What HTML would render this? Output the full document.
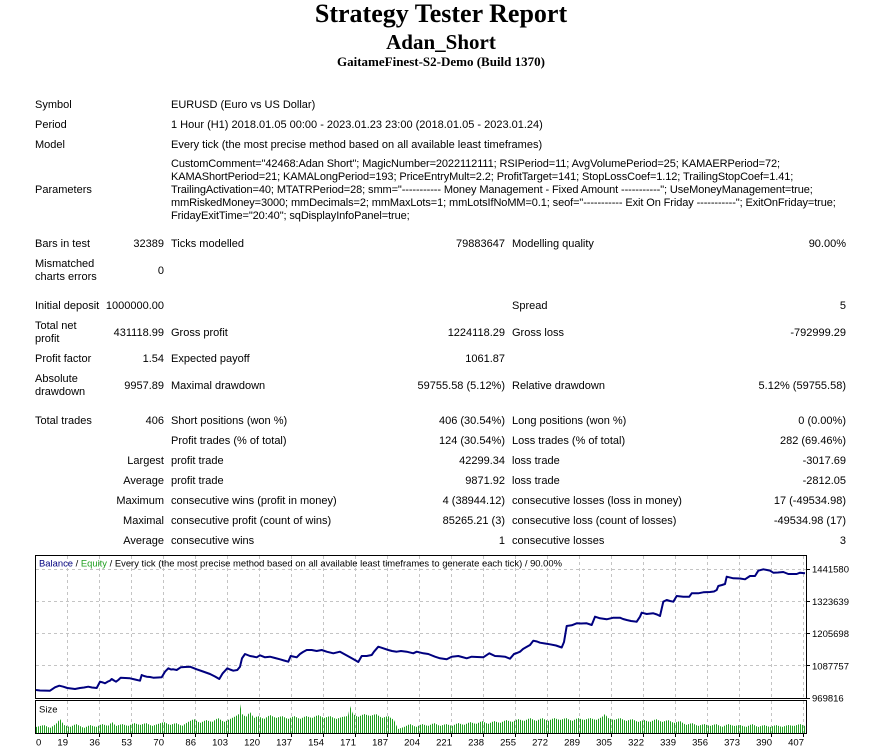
<!DOCTYPE html>
<html>
<head>
<meta charset="utf-8">
<style>
  html,body{margin:0;padding:0;background:#fff;}
  body{width:891px;height:752px;position:relative;overflow:hidden;font-family:"Liberation Sans",Arial,sans-serif;font-size:11px;color:#000;}
  .t{position:absolute;left:0;width:882px;text-align:center;font-family:"Liberation Serif","Times New Roman",serif;font-weight:bold;white-space:nowrap;}
  .r{position:absolute;left:0;width:891px;height:13px;line-height:13px;white-space:nowrap;}
  .r span{position:absolute;top:0;}
  .c1{left:35px;}
  .c2{right:727px;text-align:right;}
  .c3{left:171px;}
  .c4{right:386px;text-align:right;}
  .c5{left:512px;}
  .c6{right:45px;text-align:right;}
  .par{position:absolute;left:171px;top:157.5px;line-height:13px;white-space:nowrap;letter-spacing:-0.1px;}
  svg{position:absolute;left:0;top:0;}
</style>
</head>
<body>
<div class="t" style="top:0;font-size:26px;line-height:28px;">Strategy Tester Report</div>
<div class="t" style="top:30px;font-size:21px;line-height:24px;">Adan_Short</div>
<div class="t" style="top:54px;font-size:13px;line-height:16px;">GaitameFinest-S2-Demo (Build 1370)</div>

<div class="r" style="top:98.5px"><span class="c1">Symbol</span><span class="c3">EURUSD (Euro vs US Dollar)</span></div>
<div class="r" style="top:118.5px"><span class="c1">Period</span><span class="c3">1 Hour (H1) 2018.01.05 00:00 - 2023.01.23 23:00 (2018.01.05 - 2023.01.24)</span></div>
<div class="r" style="top:138.5px"><span class="c1">Model</span><span class="c3">Every tick (the most precise method based on all available least timeframes)</span></div>
<div class="r" style="top:183.5px"><span class="c1">Parameters</span></div>
<div class="par">CustomComment="42468:Adan Short"; MagicNumber=2022112111; RSIPeriod=11; AvgVolumePeriod=25; KAMAERPeriod=72;<br>KAMAShortPeriod=21; KAMALongPeriod=193; PriceEntryMult=2.2; ProfitTarget=141; StopLossCoef=1.12; TrailingStopCoef=1.41;<br>TrailingActivation=40; MTATRPeriod=28; smm="----------- Money Management - Fixed Amount -----------"; UseMoneyManagement=true;<br>mmRiskedMoney=3000; mmDecimals=2; mmMaxLots=1; mmLotsIfNoMM=0.1; seof="----------- Exit On Friday -----------"; ExitOnFriday=true;<br>FridayExitTime="20:40"; sqDisplayInfoPanel=true;</div>

<div class="r" style="top:237.5px"><span class="c1">Bars in test</span><span class="c2">32389</span><span class="c3">Ticks modelled</span><span class="c4">79883647</span><span class="c5">Modelling quality</span><span class="c6">90.00%</span></div>
<div class="r" style="top:257.5px"><span class="c1">Mismatched</span></div>
<div class="r" style="top:270.5px"><span class="c1">charts errors</span></div>
<div class="r" style="top:264.5px"><span class="c2">0</span></div>
<div class="r" style="top:299.5px"><span class="c1">Initial deposit</span><span class="c2">1000000.00</span><span class="c5">Spread</span><span class="c6">5</span></div>
<div class="r" style="top:319.5px"><span class="c1">Total net</span></div>
<div class="r" style="top:332.5px"><span class="c1">profit</span></div>
<div class="r" style="top:326.5px"><span class="c2">431118.99</span><span class="c3">Gross profit</span><span class="c4">1224118.29</span><span class="c5">Gross loss</span><span class="c6">-792999.29</span></div>
<div class="r" style="top:352.5px"><span class="c1">Profit factor</span><span class="c2">1.54</span><span class="c3">Expected payoff</span><span class="c4">1061.87</span></div>
<div class="r" style="top:372.5px"><span class="c1">Absolute</span></div>
<div class="r" style="top:385.5px"><span class="c1">drawdown</span></div>
<div class="r" style="top:379.5px"><span class="c2">9957.89</span><span class="c3">Maximal drawdown</span><span class="c4">59755.58 (5.12%)</span><span class="c5">Relative drawdown</span><span class="c6">5.12% (59755.58)</span></div>
<div class="r" style="top:414.5px"><span class="c1">Total trades</span><span class="c2">406</span><span class="c3">Short positions (won %)</span><span class="c4">406 (30.54%)</span><span class="c5">Long positions (won %)</span><span class="c6">0 (0.00%)</span></div>
<div class="r" style="top:434.5px"><span class="c3">Profit trades (% of total)</span><span class="c4">124 (30.54%)</span><span class="c5">Loss trades (% of total)</span><span class="c6">282 (69.46%)</span></div>
<div class="r" style="top:454.5px"><span class="c2">Largest</span><span class="c3">profit trade</span><span class="c4">42299.34</span><span class="c5">loss trade</span><span class="c6">-3017.69</span></div>
<div class="r" style="top:474.5px"><span class="c2">Average</span><span class="c3">profit trade</span><span class="c4">9871.92</span><span class="c5">loss trade</span><span class="c6">-2812.05</span></div>
<div class="r" style="top:494.5px"><span class="c2">Maximum</span><span class="c3">consecutive wins (profit in money)</span><span class="c4">4 (38944.12)</span><span class="c5">consecutive losses (loss in money)</span><span class="c6">17 (-49534.98)</span></div>
<div class="r" style="top:514.5px"><span class="c2">Maximal</span><span class="c3">consecutive profit (count of wins)</span><span class="c4">85265.21 (3)</span><span class="c5">consecutive loss (count of losses)</span><span class="c6">-49534.98 (17)</span></div>
<div class="r" style="top:534.5px"><span class="c2">Average</span><span class="c3">consecutive wins</span><span class="c4">1</span><span class="c5">consecutive losses</span><span class="c6">3</span></div>

<svg width="891" height="752" viewBox="0 0 891 752" xmlns="http://www.w3.org/2000/svg">
  <defs>
    <pattern id="st" x="36" y="0" width="2" height="20" patternUnits="userSpaceOnUse">
      <rect x="0" y="0" width="1" height="20" fill="#1f9f1f"/>
    </pattern>
  </defs>
  <g stroke="#c4c4c4" stroke-width="1" stroke-dasharray="3,3" fill="none">
    <path d="M36,569.5H806 M36,601.5H806 M36,633.5H806 M36,665.5H806"/>
    <path d="M67.5,556V698 M99.5,556V698 M131.5,556V698 M163.5,556V698 M195.5,556V698 M227.5,556V698 M259.5,556V698 M291.5,556V698 M323.5,556V698 M355.5,556V698 M387.5,556V698 M419.5,556V698 M451.5,556V698 M483.5,556V698 M515.5,556V698 M547.5,556V698 M579.5,556V698 M611.5,556V698 M643.5,556V698 M675.5,556V698 M707.5,556V698 M739.5,556V698 M771.5,556V698 M803.5,556V698"/>
    <path d="M67.5,701V733 M99.5,701V733 M131.5,701V733 M163.5,701V733 M195.5,701V733 M227.5,701V733 M259.5,701V733 M291.5,701V733 M323.5,701V733 M355.5,701V733 M387.5,701V733 M419.5,701V733 M451.5,701V733 M483.5,701V733 M515.5,701V733 M547.5,701V733 M579.5,701V733 M611.5,701V733 M643.5,701V733 M675.5,701V733 M707.5,701V733 M739.5,701V733 M771.5,701V733 M803.5,701V733"/>
  </g>
  <polygon fill="url(#st)" points="36,733 36,727 44,725 50,728 56,724 60,719 64,725 70,727 76,724 84,728 90,725 96,727 102,724 108,726 112,722 116,726 122,724 128,726 134,723 140,725 146,723 152,726 158,724 164,722 170,725 176,723 182,726 188,722 194,719 200,723 206,720 212,722 218,718 224,722 230,719 236,716 239,714 240,704 242,714 246,717 250,712 254,718 258,716 264,719 270,715 276,718 282,716 288,719 294,716 300,719 306,716 312,718 318,715 324,718 330,716 336,719 342,717 348,716 350,706 353,714 358,717 364,714 370,716 376,714 382,718 388,716 394,720 398,729 404,727 410,724 416,727 422,724 428,726 434,723 440,726 446,724 452,726 458,723 464,725 470,722 476,724 482,721 488,724 494,721 500,723 506,720 512,722 518,719 524,721 530,718 536,721 542,718 548,721 554,718 560,720 566,718 572,721 578,718 584,720 590,718 596,720 602,717 605,714 608,718 614,720 620,718 626,721 632,719 638,722 644,720 650,722 656,719 662,722 668,720 674,723 680,721 686,725 692,723 698,726 704,724 710,726 716,724 722,727 728,724 734,726 740,725 746,727 752,724 758,727 764,725 770,727 776,725 782,727 788,725 794,726 800,724 805,726 805,733"/>
  <polyline fill="none" stroke="#00007f" stroke-width="2" stroke-linejoin="round" points="36,690 40,690.5 50,690.7 55,687.3 59.3,685.7 63.3,686.7 67.3,688 75,689 80,688 84,687.5 88.3,686.7 92,687.5 96.7,688 100,681.7 103,682.5 105,683.3 108,681.5 110,680.7 111.7,679 114,680.5 116,681.7 118.3,680 120.7,677.7 125,678 130,678.3 135,679.5 140,680.7 141.7,675 144,676 146.7,676.7 150,677 153.3,677.7 158,677.5 161.7,677.3 165,671.7 168.3,668.3 171,669.5 173.3,669.3 176.7,670 180.7,667.3 185,667 190,666.7 196.7,669.3 203,671.5 210,674 215,676.5 219.3,679 222.7,673.3 227.3,668.3 230,669.5 233.3,670.7 237.3,670 240,666.7 242,658.3 245,654 250,656 253,656.5 256.7,657.3 260,655.3 265,657.3 270,656.7 275,658 280,659.3 284,660.5 288.3,661.7 290.7,656 293,656.5 296.7,657.3 300,654 303,652 306.7,650 311.7,650 316.7,651 321.7,650 326.7,651.7 333.3,653.3 340,651.7 345,654.5 350,657.3 354,659.5 358.3,662 361.7,656 366.7,656 371.7,655 374,651.7 378.3,646.7 383.3,648.3 388.3,650 392,651 396.7,651.7 401,651 406.7,651.7 413.3,653.3 416.7,651.7 423.3,653.3 428.3,654 435,656.7 440,658.3 446.7,659.3 451.7,656.7 458.3,656 462,657 466.7,658.3 471.7,656.7 477,657 483.3,657.3 489.3,653.3 495,656 500,656.3 505,656.7 510,658.7 514,654 517,653 520,651.7 523,649 526,647.3 530,645 533.3,640.7 537,641.5 540,642.7 545,643.5 550,644.3 556,645.5 561.7,647.5 564,642 566.7,626 571.7,625.3 576.7,623.3 581,623.5 586.7,623.3 591.7,625 595,616.7 600,618.3 606.7,619.3 613.3,617.7 620,617.7 623,619 626.7,620 631,621 636.7,621.7 640,616.7 641.7,612.7 646.7,614 653.3,613.3 657,614.5 660,616 663.3,601.7 666.7,600 670,601 673.3,601.7 676.7,596 683.3,596.7 689.3,596.7 691.7,593.3 698.3,593.3 703.3,592.3 710,592 714,591.5 716.7,590 718.3,586 722,585 725,584 726.7,576.7 733.3,578.3 740,578.5 745,579.3 750,576 755,576 758.3,570.7 763.3,569.3 767,570 770,570.7 773.3,572.7 778,572.5 783.3,572 788.3,574 792,574 796.7,574 800,572.7 805,573.3"/>
  <rect x="35.5" y="555.5" width="771" height="143" fill="none" stroke="#000" stroke-width="1"/>
  <rect x="35.5" y="700.5" width="771" height="33" fill="none" stroke="#000" stroke-width="1"/>
  <path stroke="#000" stroke-width="1" d="M807,569.5H810 M807,601.5H810 M807,633.5H810 M807,665.5H810 M807,698.5H810 M67.5,734V737 M99.5,734V737 M131.5,734V737 M163.5,734V737 M195.5,734V737 M227.5,734V737 M259.5,734V737 M291.5,734V737 M323.5,734V737 M355.5,734V737 M387.5,734V737 M419.5,734V737 M451.5,734V737 M483.5,734V737 M515.5,734V737 M547.5,734V737 M579.5,734V737 M611.5,734V737 M643.5,734V737 M675.5,734V737 M707.5,734V737 M739.5,734V737 M771.5,734V737 M803.5,734V737"/>
  <g font-family="Liberation Sans, Arial, sans-serif" font-size="9.5" fill="#000">
    <text x="39" y="566.5" textLength="523" lengthAdjust="spacingAndGlyphs"><tspan fill="#00007f">Balance</tspan> / <tspan fill="#1f9f1f">Equity</tspan> / Every tick (the most precise method based on all available least timeframes to generate each tick) / 90.00%</text>
    <text x="39" y="712.5">Size</text>
    <text x="812" y="572.5">1441580</text>
    <text x="812" y="605">1323639</text>
    <text x="812" y="637">1205698</text>
    <text x="812" y="669.5">1087757</text>
    <text x="812" y="701.5">969816</text>
    <text x="36" y="745.5">0</text>
    <g text-anchor="end">
      <text x="68" y="745.5">19</text>
      <text x="100" y="745.5">36</text>
      <text x="132" y="745.5">53</text>
      <text x="164" y="745.5">70</text>
      <text x="196" y="745.5">86</text>
      <text x="228" y="745.5">103</text>
      <text x="260" y="745.5">120</text>
      <text x="292" y="745.5">137</text>
      <text x="324" y="745.5">154</text>
      <text x="356" y="745.5">171</text>
      <text x="388" y="745.5">187</text>
      <text x="420" y="745.5">204</text>
      <text x="452" y="745.5">221</text>
      <text x="484" y="745.5">238</text>
      <text x="516" y="745.5">255</text>
      <text x="548" y="745.5">272</text>
      <text x="580" y="745.5">289</text>
      <text x="612" y="745.5">305</text>
      <text x="644" y="745.5">322</text>
      <text x="676" y="745.5">339</text>
      <text x="708" y="745.5">356</text>
      <text x="740" y="745.5">373</text>
      <text x="772" y="745.5">390</text>
      <text x="804" y="745.5">407</text>
    </g>
  </g>
</svg>
</body>
</html>
